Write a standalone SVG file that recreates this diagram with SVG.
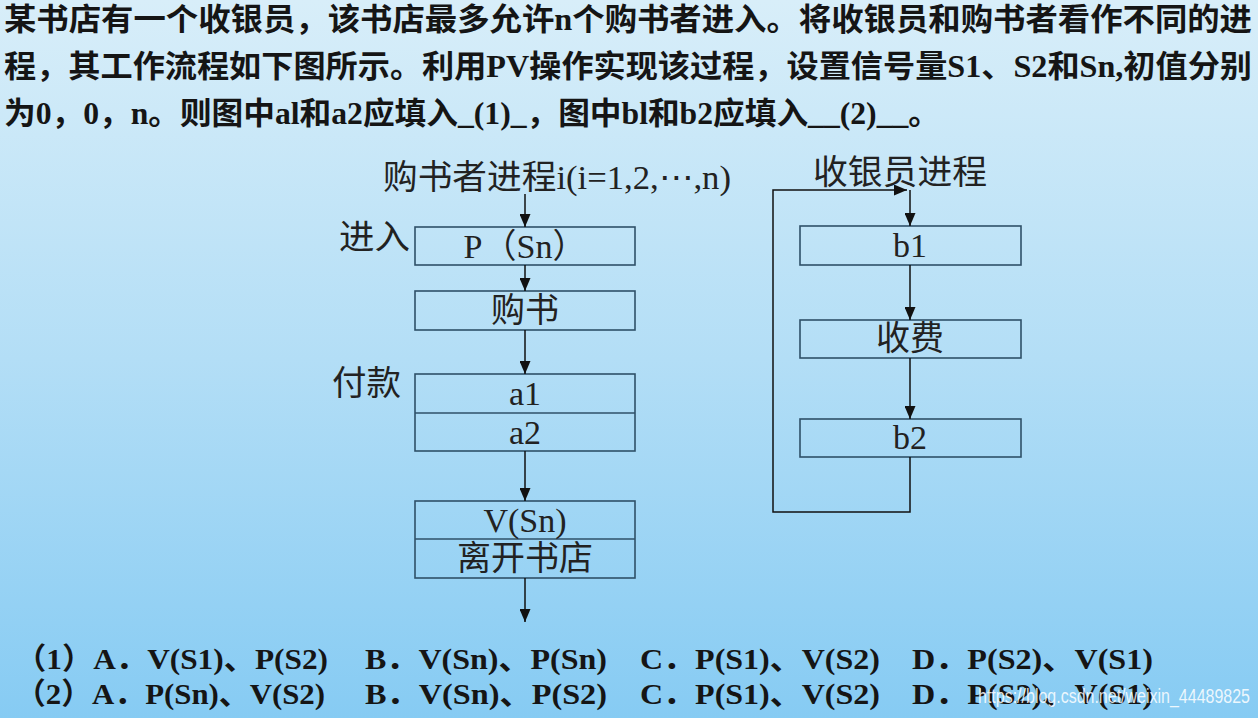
<svg xmlns="http://www.w3.org/2000/svg" width="1258" height="718" viewBox="0 0 1258 718">
<defs>
<linearGradient id="bg" x1="0" y1="0" x2="0" y2="1">
<stop offset="0" stop-color="#d8eef9"/>
<stop offset="0.5" stop-color="#b3def6"/>
<stop offset="1" stop-color="#86cbf3"/>
</linearGradient>
<marker id="ah" viewBox="0 0 13 11" refX="13" refY="5.5" markerWidth="13" markerHeight="11" markerUnits="userSpaceOnUse" orient="auto">
<path d="M0,0 L13,5.5 L0,11 z" fill="#111"/>
</marker>
<style>
.q{font-family:"Liberation Serif","Noto Sans CJK SC",serif;font-weight:bold;font-size:31px;fill:#151515}
.o{font-family:"Liberation Serif","Noto Sans CJK SC",serif;font-weight:bold;font-size:30px;fill:#151515}
.d{font-family:"Liberation Serif","Noto Sans CJK SC",serif;font-size:34px;fill:#222}
.m{text-anchor:middle}
.box{fill:none;stroke:#2f5068;stroke-width:1.6}
.c{fill:none;stroke:#111;stroke-width:1.5}
.wm{font-family:"Liberation Sans",sans-serif;font-size:20px;fill:#ffffff;fill-opacity:0.85}
</style>
</defs>
<rect width="1258" height="718" fill="url(#bg)"/>
<g id="question">
<text class="q" x="4" y="30" textLength="1248" lengthAdjust="spacingAndGlyphs">某书店有一个收银员，该书店最多允许n个购书者进入。将收银员和购书者看作不同的进</text>
<text class="q" x="4" y="77" textLength="1248" lengthAdjust="spacingAndGlyphs">程，其工作流程如下图所示。利用PV操作实现该过程，设置信号量S1、S2和Sn,初值分别</text>
<text class="q" x="4" y="124" textLength="936" lengthAdjust="spacingAndGlyphs">为0，0，n。则图中al和a2应填入_(1)_，图中bl和b2应填入__(2)__。</text>
</g>
<g id="buyer-title"><text class="d" x="383" y="189" textLength="348" lengthAdjust="spacingAndGlyphs">购书者进程i(i=1,2,<tspan style="font-family:'DejaVu Serif',serif">⋯</tspan>,n)</text></g>
<g id="label-enter"><text class="d" x="339" y="249" textLength="71" lengthAdjust="spacingAndGlyphs">进入</text></g>
<g id="node-psn"><rect class="box" x="415" y="227" width="220" height="38"/><text class="d m" x="525" y="258">P（Sn）</text></g>
<g id="node-buy"><rect class="box" x="415" y="291" width="220" height="39"/><text class="d m" x="525" y="322">购书</text></g>
<g id="label-pay"><text class="d" x="332" y="395" textLength="69" lengthAdjust="spacingAndGlyphs">付款</text></g>
<g id="node-a"><rect class="box" x="415" y="374" width="220" height="77"/><line class="box" x1="415" y1="413" x2="635" y2="413"/><text class="d m" x="525" y="405">a1</text><text class="d m" x="525" y="444">a2</text></g>
<g id="node-vsn"><rect class="box" x="415" y="501" width="220" height="77"/><line class="box" x1="415" y1="539" x2="635" y2="539"/><text class="d m" x="525" y="532">V(Sn)</text><text class="d m" x="525" y="570">离开书店</text></g>
<g id="cashier-title"><text class="d" x="813" y="184" textLength="174" lengthAdjust="spacingAndGlyphs">收银员进程</text></g>
<g id="node-b1"><rect class="box" x="800" y="226" width="221" height="39"/><text class="d m" x="910" y="257">b1</text></g>
<g id="node-fee"><rect class="box" x="800" y="320" width="221" height="38"/><text class="d m" x="910" y="350">收费</text></g>
<g id="node-b2"><rect class="box" x="800" y="419" width="221" height="38"/><text class="d m" x="910" y="449">b2</text></g>
<g id="connectors">
<line class="c" x1="525" y1="194" x2="525" y2="227" marker-end="url(#ah)"/>
<line class="c" x1="525" y1="265" x2="525" y2="291" marker-end="url(#ah)"/>
<line class="c" x1="525" y1="330" x2="525" y2="374" marker-end="url(#ah)"/>
<line class="c" x1="525" y1="451" x2="525" y2="501" marker-end="url(#ah)"/>
<line class="c" x1="525" y1="578" x2="525" y2="622" marker-end="url(#ah)"/>
<line class="c" x1="910" y1="265" x2="910" y2="320" marker-end="url(#ah)"/>
<line class="c" x1="910" y1="358" x2="910" y2="419" marker-end="url(#ah)"/>
<polyline class="c" points="910,457 910,512 773,512 773,190 907,190" marker-end="url(#ah)"/>
<line class="c" x1="910" y1="190" x2="910" y2="226" marker-end="url(#ah)"/>
</g>
<g id="options">
<text class="o" x="15" y="669" textLength="313" lengthAdjust="spacingAndGlyphs">（1）A．V(S1)、P(S2)</text>
<text class="o" x="365" y="669" textLength="242" lengthAdjust="spacingAndGlyphs">B．V(Sn)、P(Sn)</text>
<text class="o" x="640" y="669" textLength="240" lengthAdjust="spacingAndGlyphs">C．P(S1)、V(S2)</text>
<text class="o" x="912" y="669" textLength="241" lengthAdjust="spacingAndGlyphs">D．P(S2)、V(S1)</text>
<text class="o" x="15" y="704" textLength="310" lengthAdjust="spacingAndGlyphs">（2）A．P(Sn)、V(S2)</text>
<text class="o" x="365" y="704" textLength="242" lengthAdjust="spacingAndGlyphs">B．V(Sn)、P(S2)</text>
<text class="o" x="640" y="704" textLength="240" lengthAdjust="spacingAndGlyphs">C．P(S1)、V(S2)</text>
<text class="o" x="912" y="704" textLength="241" lengthAdjust="spacingAndGlyphs">D．P(S2)、V(S1)</text>
</g>
<text class="wm" x="978" y="703" textLength="272" lengthAdjust="spacingAndGlyphs">https://blog.csdn.net/weixin_44489825</text>
</svg>
